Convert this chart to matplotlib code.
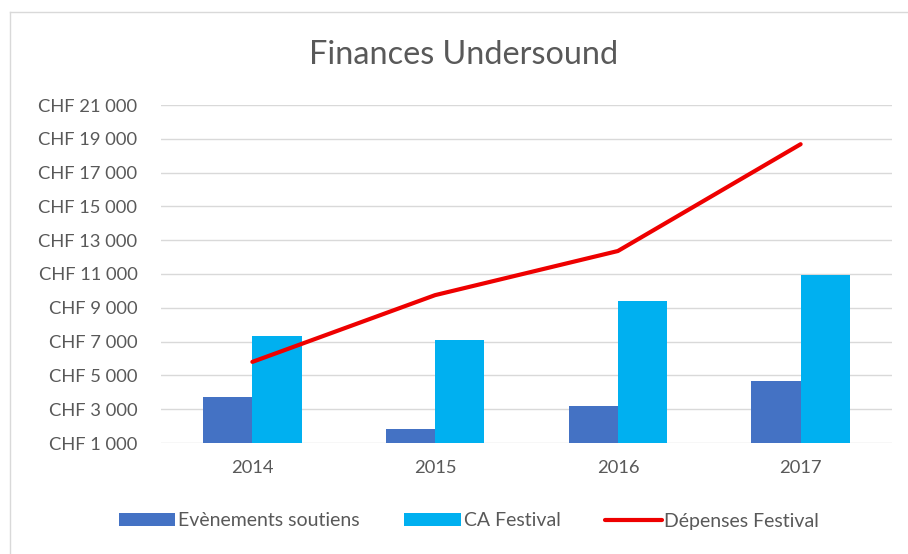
import matplotlib.pyplot as plt
import numpy as np

years = ["2014", "2015", "2016", "2017"]
evenements = [3750, 1820, 3200, 4650]
ca_festival = [7320, 7120, 9380, 10960]
depenses = [5800, 9750, 12360, 18680]

blue = "#4472C4"
cyan = "#00B0F0"
red = "#EE0000"
grey_txt = "#595959"

plt.rcParams['font.family'] = ['Lato', 'DejaVu Sans']

fig = plt.figure(figsize=(9.08, 5.54), dpi=100)
ax = fig.add_axes([161 / 908, 111 / 554, 731 / 908, 338 / 554])

x = np.arange(len(years))
w = 0.27
b1 = ax.bar(x - w / 2, evenements, w, color=blue, label="Evènements soutiens", zorder=2)
b2 = ax.bar(x + w / 2, ca_festival, w, color=cyan, label="CA Festival", zorder=2)
l1, = ax.plot(x, depenses, color=red, lw=3, label="Dépenses Festival", zorder=3,
              solid_capstyle="round")

ax.set_xlim(-0.5, len(years) - 0.5)
ax.set_ylim(1000, 21000)
ticks = np.arange(1000, 21001, 2000)
ax.set_yticks(ticks)
ax.set_yticklabels(["CHF {:,}".format(t).replace(",", " ") for t in ticks])
ax.set_xticks(x)
ax.set_xticklabels(years)
ax.tick_params(length=0, labelsize=13.2, colors=grey_txt)
ax.tick_params(axis="x", pad=12)
ax.tick_params(axis="y", pad=17)
ax.grid(axis="y", color="#D9D9D9", lw=1, zorder=0)
for s in ax.spines.values():
    s.set_visible(False)

fig.text(464 / 908, 1 - 55 / 554, "Finances Undersound", ha="center", va="center",
         fontsize=23.3, color=grey_txt)

leg = fig.legend([b1, b2, l1], ["Evènements soutiens", "CA Festival", "Dépenses Festival"],
                 loc="center", bbox_to_anchor=(469 / 908, 1 - 521 / 554), ncol=3,
                 frameon=False, fontsize=14, handlelength=2.9, handleheight=0.65,
                 columnspacing=2.3, handletextpad=0.15)
for t in leg.get_texts():
    t.set_color(grey_txt)

# chart frame
fig.add_artist(plt.Line2D([10 / 908, 10 / 908], [0, 1 - 12 / 554], color="#D9D9D9", lw=1))
fig.add_artist(plt.Line2D([10 / 908, 1], [1 - 12 / 554, 1 - 12 / 554], color="#D9D9D9", lw=1))

fig.savefig("out.png", dpi=100)
